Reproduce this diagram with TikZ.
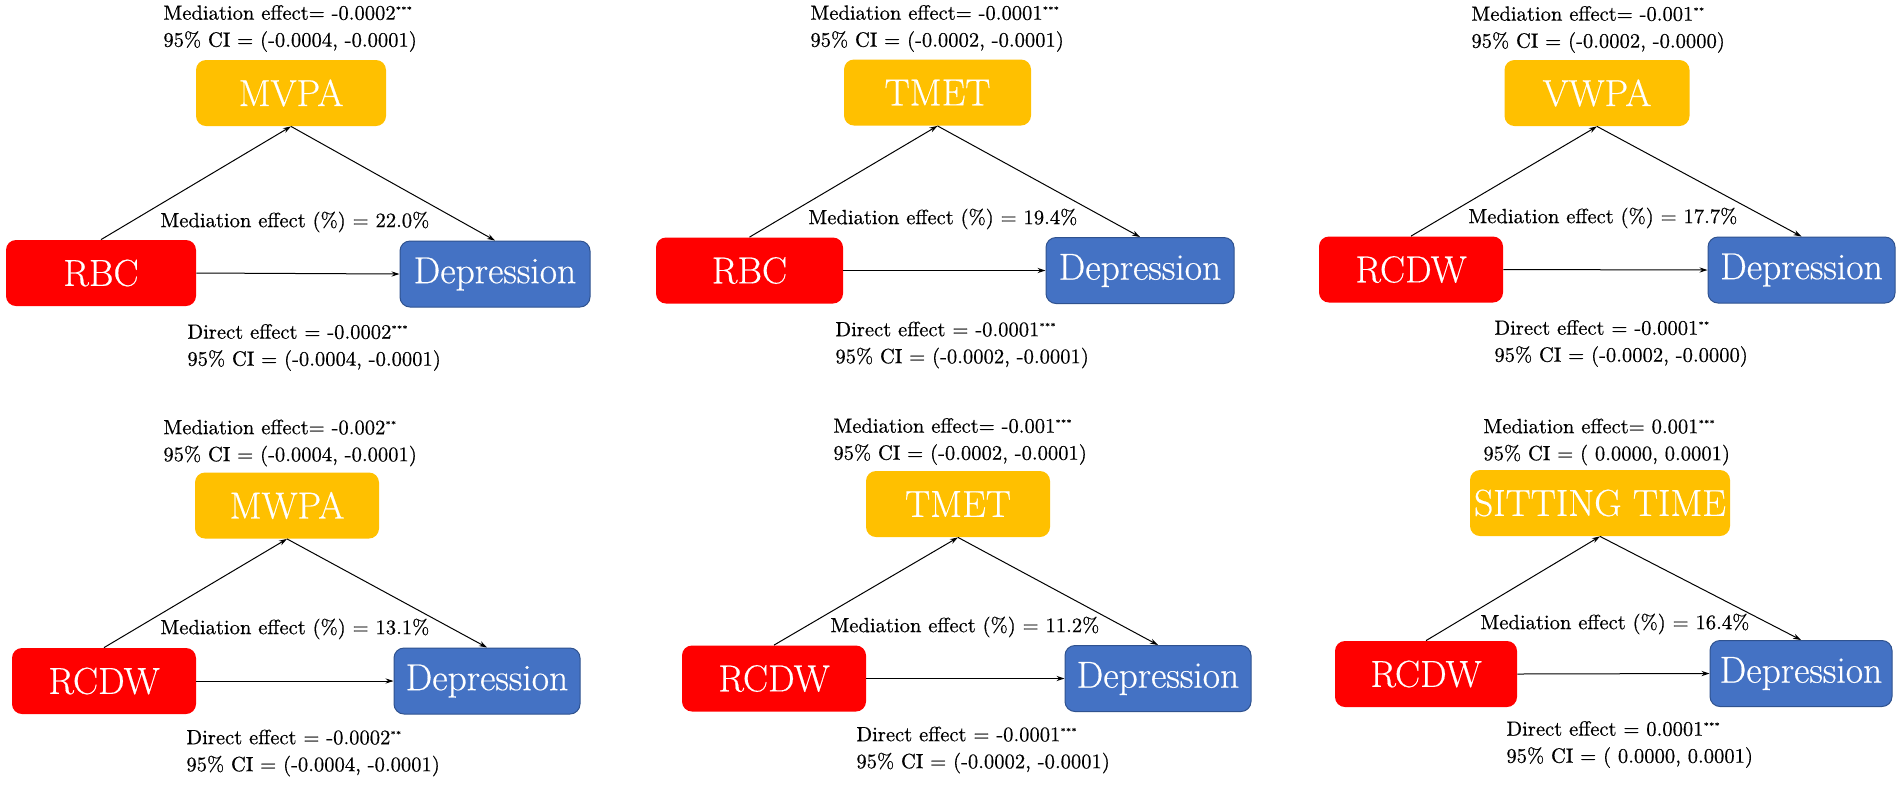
\documentclass[tikz,border=0pt]{standalone}
\usepackage{fontspec}
\setmainfont{Latin Modern Roman}[FakeBold=0.5]
\usetikzlibrary{arrows.meta}
\definecolor{myyellow}{HTML}{FFC000}
\definecolor{myred}{HTML}{FF0000}
\definecolor{myblue}{HTML}{4472C4}
\definecolor{myblueedge}{HTML}{2F528F}
\newcommand\sig[1]{\textsuperscript{\fontsize{4}{4}\selectfont #1}}
\begin{document}
\begin{tikzpicture}[x=0.5pt,y=-0.5pt,
 box/.style={rounded corners=5pt, minimum height=33pt, inner sep=0pt, text=white, font=\fontsize{18.8}{20}\selectfont},
 medbox/.style={box, fill=myyellow},
 xbox/.style={box, fill=myred},
 depbox/.style={box, fill=myblue, draw=myblueedge, line width=0.5pt},
 lbl/.style={anchor=west, inner sep=0pt, align=left, font=\fontsize{10.3}{13.5}\selectfont},
 arr/.style={-{Stealth[length=4pt,width=2.6pt]}, line width=0.5pt}
]
\useasboundingbox (0,0) rectangle (1902,784);
\fill[white] (0,0) rectangle (1902,784);

% Panel 1
\node[medbox, minimum width=95pt] (m1) at (291,93) {MVPA};
\node[xbox, minimum width=95pt] (x1) at (101,273) {RBC};
\node[depbox, minimum width=95pt] (y1) at (495,274) {Depression};
\node[lbl] (t1) at (163,28.5) {Mediation effect= -0.0002\sig{***}\\95\% CI = (-0.0004, -0.0001)};
\node[lbl] (p1) at (160,222) {Mediation effect (\%) = 22.0\%};
\node[lbl] (d1) at (187,347.5) {Direct effect = -0.0002\sig{***}\\95\% CI = (-0.0004, -0.0001)};
\draw[arr] (x1.north) -- (m1.south);
\draw[arr] (m1.south) -- (y1.north);
\draw[arr] (x1.east) -- (y1.west);

% Panel 2
\node[medbox, minimum width=93.5pt] (m2) at (937.5,92.5) {TMET};
\node[xbox, minimum width=93.5pt] (x2) at (749.5,270.5) {RBC};
\node[depbox, minimum width=94pt] (y2) at (1140,270.5) {Depression};
\node[lbl] (t2) at (810,28.5) {Mediation effect= -0.0001\sig{***}\\95\% CI = (-0.0002, -0.0001)};
\node[lbl] (p2) at (808,219) {Mediation effect (\%) = 19.4\%};
\node[lbl] (d2) at (835,345) {Direct effect = -0.0001\sig{***}\\95\% CI = (-0.0002, -0.0001)};
\draw[arr] (x2.north) -- (m2.south);
\draw[arr] (m2.south) -- (y2.north);
\draw[arr] (x2.east) -- (y2.west);

% Panel 3
\node[medbox, minimum width=92.5pt] (m3) at (1597,93) {VWPA};
\node[xbox, minimum width=92pt] (x3) at (1411,269.5) {RCDW};
\node[depbox, minimum width=93.5pt] (y3) at (1801.5,270) {Depression};
\node[lbl] (t3) at (1471,29.5) {Mediation effect= -0.001\sig{**}\\95\% CI = (-0.0002, -0.0000)};
\node[lbl] (p3) at (1468,218) {Mediation effect (\%) = 17.7\%};
\node[lbl] (d3) at (1494,343.5) {Direct effect = -0.0001\sig{**}\\95\% CI = (-0.0002, -0.0000)};
\draw[arr] (x3.north) -- (m3.south);
\draw[arr] (m3.south) -- (y3.north);
\draw[arr] (x3.east) -- (y3.west);

% Panel 4
\node[medbox, minimum width=92pt] (m4) at (287,505.5) {MWPA};
\node[xbox, minimum width=92pt] (x4) at (104,681) {RCDW};
\node[depbox, minimum width=93pt] (y4) at (487,681) {Depression};
\node[lbl] (t4) at (163,443) {Mediation effect= -0.002\sig{**}\\95\% CI = (-0.0004, -0.0001)};
\node[lbl] (p4) at (160,629) {Mediation effect (\%) = 13.1\%};
\node[lbl] (d4) at (186,753) {Direct effect = -0.0002\sig{**}\\95\% CI = (-0.0004, -0.0001)};
\draw[arr] (x4.north) -- (m4.south);
\draw[arr] (m4.south) -- (y4.north);
\draw[arr] (x4.east) -- (y4.west);

% Panel 5
\node[medbox, minimum width=92pt] (m5) at (958,504) {TMET};
\node[xbox, minimum width=92pt] (x5) at (774,678.5) {RCDW};
\node[depbox, minimum width=93pt] (y5) at (1158,678.5) {Depression};
\node[lbl] (t5) at (833,441.5) {Mediation effect= -0.001\sig{***}\\95\% CI = (-0.0002, -0.0001)};
\node[lbl] (p5) at (830,627) {Mediation effect (\%) = 11.2\%};
\node[lbl] (d5) at (856,750) {Direct effect = -0.0001\sig{***}\\95\% CI = (-0.0002, -0.0001)};
\draw[arr] (x5.north) -- (m5.south);
\draw[arr] (m5.south) -- (y5.north);
\draw[arr] (x5.east) -- (y5.west);

% Panel 6
\node[medbox, minimum width=130pt] (m6) at (1600,503) {SITTING TIME};
\node[xbox, minimum width=91pt] (x6) at (1426,674) {RCDW};
\node[depbox, minimum width=91pt] (y6) at (1801,673.5) {Depression};
\node[lbl] (t6) at (1483,442) {Mediation effect= 0.001\sig{***}\\95\% CI = ( 0.0000, 0.0001)};
\node[lbl] (p6) at (1480,624) {Mediation effect (\%) = 16.4\%};
\node[lbl] (d6) at (1506,744.5) {Direct effect = 0.0001\sig{***}\\95\% CI = ( 0.0000, 0.0001)};
\draw[arr] (x6.north) -- (m6.south);
\draw[arr] (m6.south) -- (y6.north);
\draw[arr] (x6.east) -- (y6.west);
\end{tikzpicture}
\end{document}
